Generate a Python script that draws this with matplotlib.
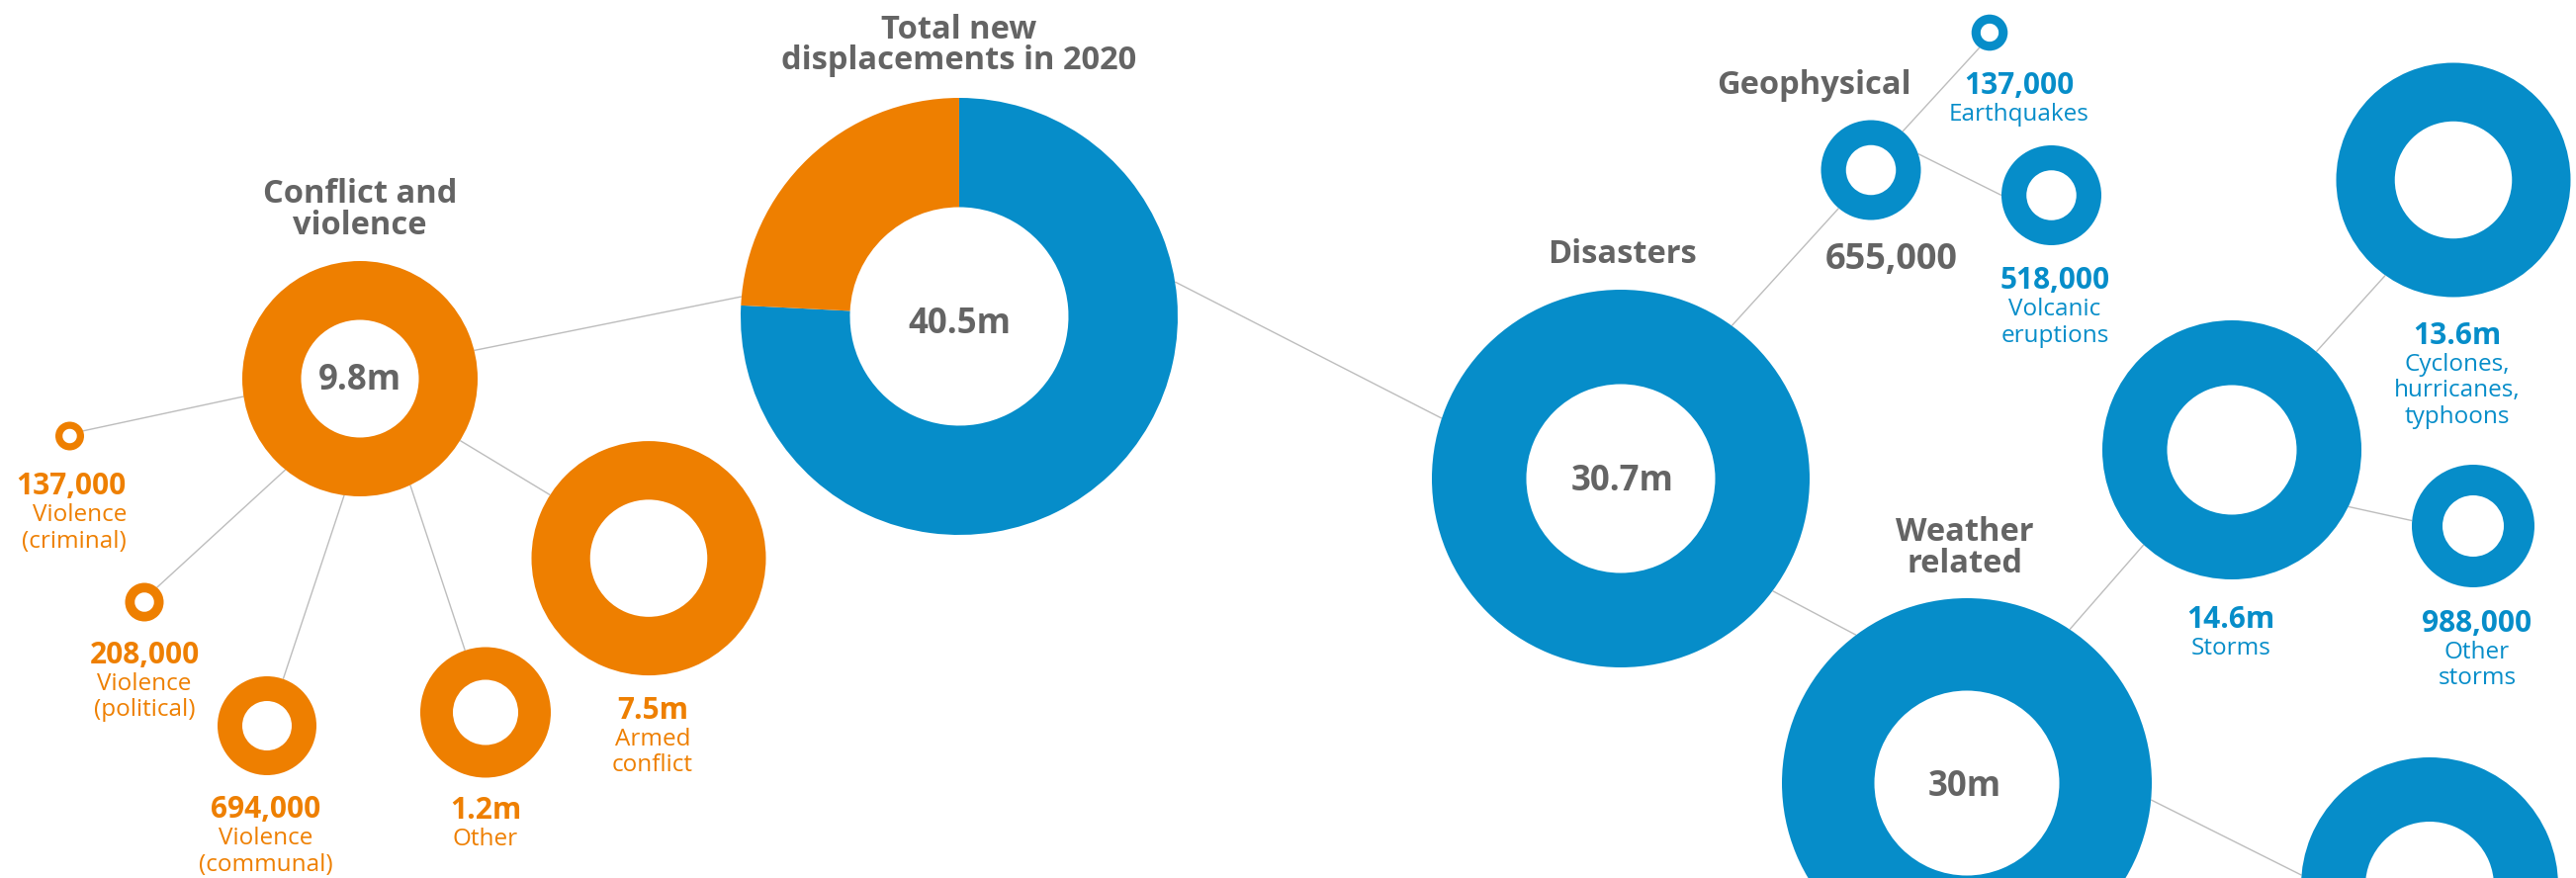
import numpy as np
import matplotlib.pyplot as plt

W, H = 2605, 888
ORANGE = '#EE7F00'
BLUE = '#068DC9'
GREY = '#646464'
LINK = '#BDBDBD'
plt.rcParams['font.family'] = ['Open Sans', 'DejaVu Sans']

# ---- data ----
nodes = ['total', 'conflict', 'disasters', 'criminal', 'political', 'communal',
         'conflict_other', 'armed', 'geophysical', 'weather', 'earthquakes',
         'volcanic', 'storms', 'floods', 'cyclones', 'other_storms']
values = [40.5e6, 9.8e6, 30.7e6, 137000, 208000, 694000,
          1.2e6, 7.5e6, 655000, 30e6, 137000,
          518000, 14.6e6, 14e6, 13.6e6, 988000]
parents = ['', 'total', 'total', 'conflict', 'conflict', 'conflict',
           'conflict', 'conflict', 'disasters', 'disasters', 'geophysical',
           'geophysical', 'weather', 'weather', 'storms', 'storms']
groups = ['total', 'conflict', 'disasters', 'conflict', 'conflict', 'conflict',
          'conflict', 'conflict', 'disasters', 'disasters', 'disasters',
          'disasters', 'disasters', 'disasters', 'disasters', 'disasters']

headers = {
    'total': ['Total new', 'displacements in 2020'],
    'conflict': ['Conflict and', 'violence'],
    'disasters': ['Disasters'],
    'geophysical': ['Geophysical'],
    'weather': ['Weather', 'related'],
}
descriptions = {
    'criminal': ['Violence', '(criminal)'],
    'political': ['Violence', '(political)'],
    'communal': ['Violence', '(communal)'],
    'conflict_other': ['Other'],
    'armed': ['Armed', 'conflict'],
    'earthquakes': ['Earthquakes'],
    'volcanic': ['Volcanic', 'eruptions'],
    'storms': ['Storms'],
    'cyclones': ['Cyclones,', 'hurricanes,', 'typhoons'],
    'other_storms': ['Other', 'storms'],
}

# ---- layout (pixel positions, y downwards) ----
rings = {
    'total': (970, 320, 221),
    'conflict': (364, 383, 119),
    'criminal': (70.5, 441, 14.5),
    'political': (146, 609, 19.5),
    'communal': (270, 734, 50),
    'conflict_other': (491, 720.5, 66),
    'armed': (656, 564.6, 118.5),
    'disasters': (1639, 484, 191),
    'geophysical': (1892, 172, 50.5),
    'earthquakes': (2012, 33, 18.3),
    'volcanic': (2074.5, 197.5, 50.5),
    'weather': (1989, 792, 187),
    'storms': (2257, 455, 131),
    'floods': (2457, 896, 130),
    'cyclones': (2481, 182, 118.5),
    'other_storms': (2501, 532, 62),
}
# angle of the link on the parent ring, angle on the child ring
link_angles = {
    'conflict': (174.8, 13.9),
    'disasters': (9.1, 161.4),
    'criminal': (188.7, 21),
    'political': (230.7, 49.4),
    'communal': (262.3, 70.9),
    'conflict_other': (295.3, 108.3),
    'armed': (328.3, 147.3),
    'geophysical': (54, 229.8),
    'weather': (323.5, 126.8),
    'earthquakes': (50.6, 236),
    'volcanic': (19, 180),
    'storms': (56.2, 227.1),
    'floods': (354.8, 175.2),
    'cyclones': (49.3, 234.5),
    'other_storms': (334, 175),
}
# header: x, first baseline, line step, size
header_pos = {
    'total': (970, 39, 31, 23.5),
    'conflict': (364, 205, 32, 23.5),
    'disasters': (1640, 266, 32, 23.5),
    'geophysical': (1834, 95, 32, 23.5),
    'weather': (1987, 547, 32, 23.5),
}
# value label: x, baseline, kind, ha
value_pos = {
    'total': (970, 337, 'hole', 'center'),
    'conflict': (364, 394, 'hole', 'center'),
    'disasters': (1641, 496, 'hole', 'center'),
    'weather': (1987, 805, 'hole', 'center'),
    'geophysical': (1913, 272, 'grey', 'center'),
    'criminal': (128, 500, 'leaf', 'right'),
    'political': (146, 671, 'leaf', 'center'),
    'communal': (269, 827, 'leaf', 'center'),
    'conflict_other': (491, 828, 'leaf', 'center'),
    'armed': (660, 727, 'leaf', 'center'),
    'earthquakes': (2042, 95, 'leaf', 'center'),
    'volcanic': (2078, 292, 'leaf', 'center'),
    'storms': (2256, 635, 'leaf', 'center'),
    'cyclones': (2485, 348, 'leaf', 'center'),
    'other_storms': (2505, 639, 'leaf', 'center'),
}
value_style = {'hole': (25, GREY), 'grey': (26, GREY), 'leaf': (21.5, None)}
DESC_SIZE = 17.5


def fmt(v):
    if v >= 1e6:
        return f'{v / 1e6:g}m'
    return f'{v:,.0f}'


def to_data(px, py):
    return px, H - py


val = dict(zip(nodes, values))
col = {n: (ORANGE if g == 'conflict' else BLUE) for n, g in zip(nodes, groups)}

fig = plt.figure(figsize=(W / 100, H / 100), dpi=100)
ax = fig.add_axes([0, 0, 1, 1])

# rings
for name in nodes:
    px, py, r = rings[name]
    if name == 'total':
        ax.pie([val['disasters'], val['conflict']], colors=[BLUE, ORANGE],
               startangle=90, counterclock=False, radius=r,
               center=to_data(px, py),
               wedgeprops=dict(width=r / 2, linewidth=0))
    else:
        ax.pie([val[name]], colors=[col[name]], radius=r,
               center=to_data(px, py),
               wedgeprops=dict(width=r / 2, linewidth=0))

# links
for name, parent in zip(nodes, parents):
    if not parent:
        continue
    a0, a1 = np.radians(link_angles[name])
    x0, y0, r0 = rings[parent]
    x1, y1, r1 = rings[name]
    xa, ya = to_data(x0, y0)
    xb, yb = to_data(x1, y1)
    ax.plot([xa + r0 * np.cos(a0), xb + r1 * np.cos(a1)],
            [ya + r0 * np.sin(a0), yb + r1 * np.sin(a1)],
            color=LINK, lw=1.0, zorder=0, solid_capstyle='butt')

# headers
for name, lines in headers.items():
    x, y, step, size = header_pos[name]
    for i, line in enumerate(lines):
        ax.text(*to_data(x, y + i * step), line, ha='center', va='baseline',
                fontsize=size, fontweight='bold', color=GREY)

# value labels and descriptions
for name, (x, y, kind, ha) in value_pos.items():
    size, c = value_style[kind]
    c = c or col[name]
    ax.text(*to_data(x, y), fmt(val[name]), ha=ha, va='baseline',
            fontsize=size, fontweight='bold', color=c)
    for i, line in enumerate(descriptions.get(name, [])):
        ax.text(*to_data(x, y + 27 + i * 26.5), line, ha=ha, va='baseline',
                fontsize=DESC_SIZE, color=c)

ax.set_xlim(0, W)
ax.set_ylim(0, H)
ax.set_aspect('equal')
ax.axis('off')
fig.savefig('out.png', dpi=100, facecolor='white')
